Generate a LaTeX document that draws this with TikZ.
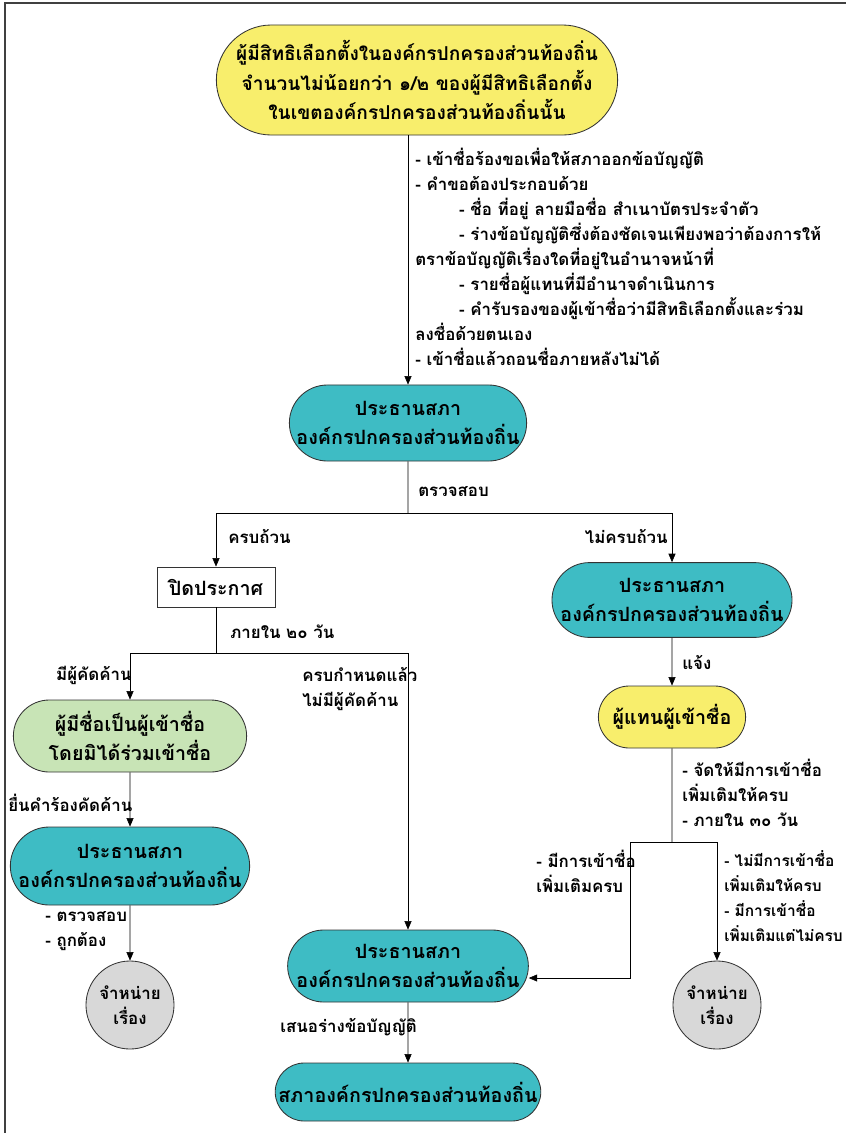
\documentclass[tikz,border=0pt]{standalone}
\usepackage{fontspec}
\newfontfamily\thaifont[Script=Thai]{Loma}
\usetikzlibrary{arrows.meta,shapes.misc}
\definecolor{tealfill}{RGB}{62,188,196}
\definecolor{yellowfill}{RGB}{248,238,108}
\definecolor{greenfill}{RGB}{200,228,182}
\definecolor{greyfill}{RGB}{216,216,216}
\begin{document}
\begin{tikzpicture}[x=0.025cm,y=-0.025cm,->,>={Triangle[width=5pt,length=6pt]},
  every node/.style={font=\thaifont\bfseries\fontsize{14}{21}\selectfont},
  pill/.style={rounded rectangle,draw=black!80,line width=0.6pt,align=center,inner sep=1pt},
  tealbox/.style={pill,fill=tealfill,minimum width=6cm,minimum height=1.9cm},
  lbl/.style={font=\thaifont\bfseries\fontsize{12}{17.8}\selectfont,align=left,inner sep=0pt}]
\useasboundingbox (0,0) rectangle (846,1133);
\draw[-,line width=1.2pt,black!75] (5,1133) -- (5,3) -- (846,3);
\node[pill,fill=yellowfill,minimum width=10.1cm,minimum height=2.75cm,font=\thaifont\bfseries\fontsize{13.6}{21}\selectfont] (1) at (417,80) {ผู้มีสิทธิเลือกตั้งในองค์กรปกครองส่วนท้องถิ่น\\จำนวนไม่น้อยกว่า ๑/๒ ของผู้มีสิทธิเลือกตั้ง\\ในเขตองค์กรปกครองส่วนท้องถิ่นนั้น};
\node[tealbox] (2) at (408,423) {ประธานสภา\\องค์กรปกครองส่วนท้องถิ่น};
\node[draw=black!80,line width=0.6pt,fill=white,minimum width=2.95cm,minimum height=1cm] (3) at (216,587) {ปิดประกาศ};
\node[tealbox,minimum width=5.9cm,minimum height=1.87cm] (4) at (672,600) {ประธานสภา\\องค์กรปกครองส่วนท้องถิ่น};
\node[pill,fill=greenfill,minimum width=5.9cm,minimum height=1.8cm] (5) at (130,736) {ผู้มีชื่อเป็นผู้เข้าชื่อ\\โดยมิได้ร่วมเข้าชื่อ};
\node[tealbox,minimum width=5.9cm,minimum height=1.95cm] (6) at (130,866) {ประธานสภา\\องค์กรปกครองส่วนท้องถิ่น};
\node[circle,draw=black!80,line width=0.6pt,fill=greyfill,minimum size=2.2cm,inner sep=0pt,align=center,font=\thaifont\bfseries\fontsize{12}{17.8}\selectfont] (7) at (130,1005) {จำหน่าย\\เรื่อง};
\node[pill,fill=yellowfill,minimum width=3.75cm,minimum height=1.55cm] (8) at (672,717) {ผู้แทนผู้เข้าชื่อ};
\node[tealbox,minimum height=1.8cm] (9) at (408,966) {ประธานสภา\\องค์กรปกครองส่วนท้องถิ่น};
\node[circle,draw=black!80,line width=0.6pt,fill=greyfill,minimum size=2.2cm,inner sep=0pt,align=center,font=\thaifont\bfseries\fontsize{12}{17.8}\selectfont] (10) at (717,1005) {จำหน่าย\\เรื่อง};
\node[tealbox,minimum height=1.45cm] (11) at (408,1092) {สภาองค์กรปกครองส่วนท้องถิ่น};
% junctions
\coordinate (j1) at (408,513);
\coordinate (j2) at (216,653);
\coordinate (j3) at (672,842);
\coordinate (c1) at (630,978);
% labels
\node[lbl,anchor=north west] at (415,148) {- เข้าชื่อร้องขอเพื่อให้สภาออกข้อบัญญัติ\\- คำขอต้องประกอบด้วย\\\hspace*{2.6em}- ชื่อ ที่อยู่ ลายมือชื่อ สำเนาบัตรประจำตัว\\\hspace*{2.6em}- ร่างข้อบัญญัติซึ่งต้องชัดเจนเพียงพอว่าต้องการให้\\ตราข้อบัญญัติเรื่องใดที่อยู่ในอำนาจหน้าที่\\\hspace*{2.6em}- รายชื่อผู้แทนที่มีอำนาจดำเนินการ\\\hspace*{2.6em}- คำรับรองของผู้เข้าชื่อว่ามีสิทธิเลือกตั้งและร่วม\\ลงชื่อด้วยตนเอง\\- เข้าชื่อแล้วถอนชื่อภายหลังไม่ได้};
\node[lbl,anchor=west] at (418,492) {ตรวจสอบ};
\node[lbl,anchor=west] at (228,536) {ครบถ้วน};
\node[lbl,anchor=east] at (668,536) {ไม่ครบถ้วน};
\node[lbl,anchor=west] at (230,632) {ภายใน ๒๐ วัน};
\node[lbl,anchor=east] at (132,675) {มีผู้คัดค้าน};
\node[lbl,anchor=north west] at (302,667) {ครบกำหนดแล้ว\\ไม่มีผู้คัดค้าน};
\node[lbl,anchor=west] at (8,803) {ยื่นคำร้องคัดค้าน};
\node[lbl,anchor=north west] at (45,911) {- ตรวจสอบ\\- ถูกต้อง};
\node[lbl,anchor=west] at (682,662) {แจ้ง};
\node[lbl,anchor=north west] at (682,759) {- จัดให้มีการเข้าชื่อ\\เพิ่มเติมให้ครบ\\- ภายใน ๓๐ วัน};
\node[lbl,anchor=north west] at (536,850) {- มีการเข้าชื่อ\\เพิ่มเติมครบ};
\node[lbl,anchor=north west,font=\thaifont\bfseries\fontsize{11}{17.8}\selectfont] at (724,850) {- ไม่มีการเข้าชื่อ\\เพิ่มเติมให้ครบ\\- มีการเข้าชื่อ\\เพิ่มเติมแต่ไม่ครบ};
\node[lbl,anchor=west] at (280,1027) {เสนอร่างข้อบัญญัติ};
% connectors
\draw (1.south -| 2.north) -- (2.north);
\draw[-] (2) -- (j1);
\draw (j1) -| (3.north);
\draw (j1) -| (4.north);
\draw[-] (3) -- (j2);
\draw (j2) -| (5.north);
\draw (j2) -| (9.north);
\draw (5) -- (6);
\draw (6) -- (7);
\draw (4) -- (8);
\draw[-] (8) -- (j3);
\draw (j3) -| (c1) -- (9.east |- c1);
\draw (j3) -| (10.north);
\draw (9) -- (11);
\end{tikzpicture}
\end{document}
